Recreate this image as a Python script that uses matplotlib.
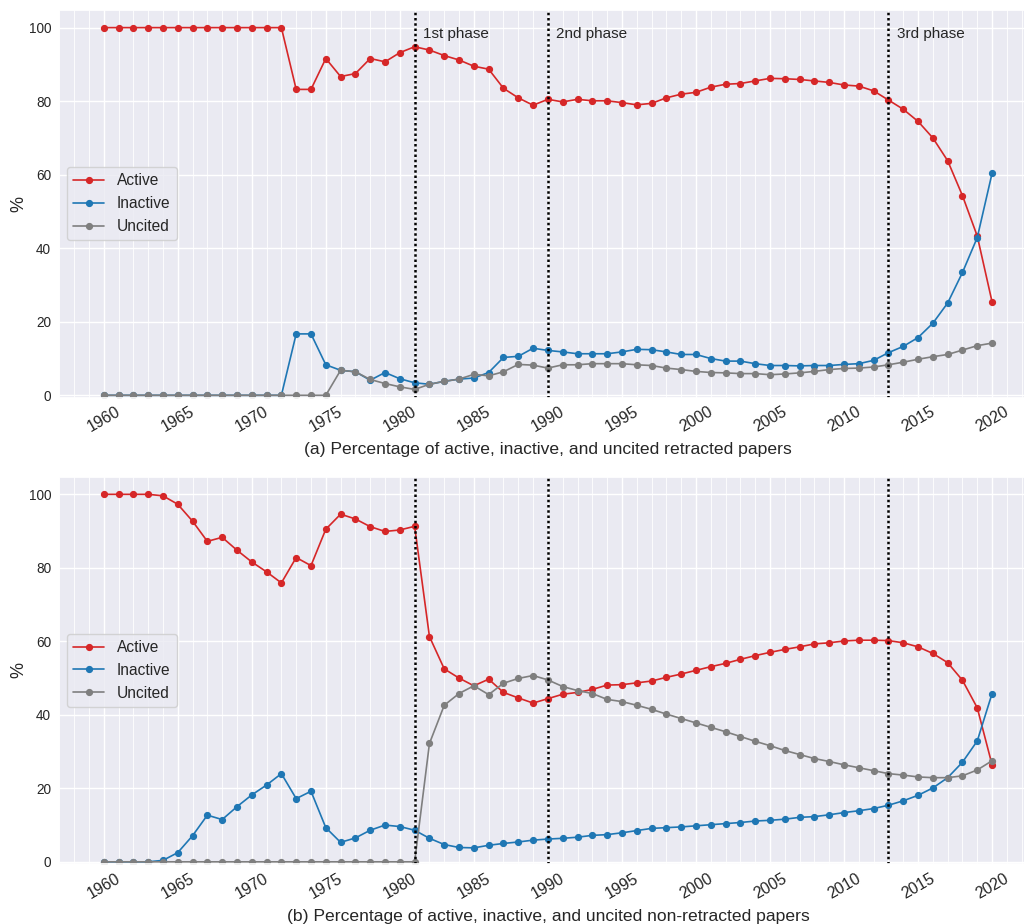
import matplotlib
matplotlib.use("Agg")
import matplotlib.pyplot as plt
from matplotlib.ticker import MultipleLocator
import seaborn as sns

sns.set_theme(style="darkgrid")
plt.rcParams['font.family'] = ['Liberation Sans', 'DejaVu Sans']

years = list(range(1960, 2021))

# (a) retracted papers, % per year
ret_active = [100] * 13 + [
    83.2, 83.2, 91.6, 86.7, 87.5, 91.6, 90.7, 93.2,
    94.8, 93.9, 92.4, 91.2, 89.5, 88.7, 83.5, 80.9, 78.9, 80.5,
    79.8, 80.5, 80.1, 80.1, 79.6, 79.0, 79.4, 80.9, 81.9, 82.4,
    83.8, 84.6, 84.8, 85.5, 86.2, 86.1, 85.9, 85.5, 85.1, 84.4,
    84.1, 82.8, 80.3, 77.8, 74.5, 70.0, 63.8, 54.3, 43.3, 25.4]
ret_inactive = [0] * 13 + [
    16.7, 16.7, 8.3, 6.8, 6.4, 4.1, 6.2, 4.5,
    3.4, 3.0, 3.8, 4.4, 4.7, 6.2, 10.3, 10.6, 12.8, 12.2,
    11.8, 11.3, 11.3, 11.3, 11.8, 12.5, 12.4, 11.8, 11.1, 11.1,
    10.0, 9.3, 9.3, 8.6, 8.1, 8.1, 8.0, 8.1, 8.1, 8.4,
    8.6, 9.5, 11.6, 13.3, 15.7, 19.6, 25.1, 33.4, 42.9, 60.4]
ret_uncited = [0] * 16 + [
    6.8, 6.4, 4.3, 3.2, 2.3,
    1.6, 3.0, 3.8, 4.4, 5.7, 5.3, 6.4, 8.4, 8.2, 7.4,
    8.3, 8.3, 8.6, 8.6, 8.6, 8.3, 8.1, 7.4, 7.0, 6.5,
    6.2, 6.1, 5.9, 5.9, 5.6, 5.8, 6.1, 6.5, 7.0, 7.3,
    7.4, 7.7, 8.3, 9.0, 9.8, 10.5, 11.1, 12.3, 13.5, 14.2]

# (b) non-retracted papers, % per year
non_active = [
    100, 100, 100, 100, 99.6, 97.3, 92.7, 87.2, 88.3, 84.8,
    81.6, 78.9, 75.9, 82.8, 80.6, 90.5, 94.6, 93.3, 91.2, 89.9, 90.3,
    91.3, 61.3, 52.5, 50.0, 47.9, 49.7, 46.1, 44.6, 43.2, 44.4,
    45.6, 46.1, 46.9, 48.1, 48.2, 48.7, 49.2, 50.2, 51.1, 52.1,
    53.1, 54.0, 55.1, 56.1, 57.0, 57.8, 58.5, 59.3, 59.6, 60.1,
    60.3, 60.3, 60.2, 59.6, 58.5, 56.7, 54.2, 49.4, 41.9, 26.4]
non_inactive = [
    0, 0, 0, 0, 0.4, 2.5, 7.1, 12.7, 11.5, 15.0,
    18.2, 20.9, 24.0, 17.2, 19.2, 9.3, 5.3, 6.5, 8.6, 10.0, 9.6,
    8.6, 6.4, 4.7, 3.9, 3.8, 4.5, 5.0, 5.4, 5.9, 6.2,
    6.4, 6.7, 7.2, 7.4, 7.9, 8.5, 9.1, 9.3, 9.5, 9.8,
    10.1, 10.4, 10.7, 11.1, 11.3, 11.6, 12.1, 12.3, 12.8, 13.4,
    13.9, 14.5, 15.4, 16.6, 18.1, 20.1, 22.9, 27.1, 32.9, 45.8]
non_uncited = [0] * 22 + [
    32.2, 42.6, 45.8, 47.9, 45.5, 48.6, 49.9, 50.7, 49.5,
    47.7, 46.6, 45.8, 44.2, 43.6, 42.6, 41.5, 40.2, 39.0, 37.8,
    36.6, 35.4, 34.1, 32.8, 31.6, 30.3, 29.2, 28.1, 27.3, 26.4,
    25.6, 24.8, 24.0, 23.6, 23.1, 22.9, 22.9, 23.4, 25.0, 27.5]

phase_years = [1981, 1990, 2013]
phase_names = ['1st phase', '2nd phase', '3rd phase']

captions = ['(a) Percentage of active, inactive, and uncited retracted papers',
            '(b) Percentage of active, inactive, and uncited non-retracted papers']

fig = plt.figure(figsize=(10.24, 9.24), dpi=100)
ax1 = fig.add_axes([0.0579, 0.5698, 0.9543, 0.4194])
ax2 = fig.add_axes([0.0579, 0.0649, 0.9543, 0.4192])

panels = [(ax1, ret_active, ret_inactive, ret_uncited, True),
          (ax2, non_active, non_inactive, non_uncited, False)]

for i, (ax, act, inact, unc, label_phases) in enumerate(panels):
    ax.plot(years, act, '-o', color='tab:red', lw=1.2, ms=4.2, label='Active')
    ax.plot(years, inact, '-o', color='tab:blue', lw=1.2, ms=4.2, label='Inactive')
    ax.plot(years, unc, '-o', color='tab:gray', lw=1.2, ms=4.2, label='Uncited')
    for yr, name in zip(phase_years, phase_names):
        ax.axvline(yr, color='black', lw=1.8, linestyle=(0, (1, 1.1)))
        if label_phases:
            ax.text(yr + 0.55, 98.3, name, fontsize=11, va='center', color='#262626')
    ax.set_xlim(1957, 2023)
    ax.set_ylim(-0.6, 104.8)
    ax.set_xticks(range(1960, 2021, 5))
    ax.xaxis.set_minor_locator(MultipleLocator(1))
    ax.grid(which='minor', axis='x', color='white', linewidth=0.6)
    ax.set_yticks(range(0, 101, 20))
    ax.tick_params(axis='x', labelsize=11.5, labelrotation=30, length=0, pad=4.7)
    ax.tick_params(axis='y', labelsize=9.8, length=0, pad=5.8)
    ax.set_ylabel('%', fontsize=13)
    ax.yaxis.set_label_coords(-0.033, 0.5)
    ax.set_xlabel(captions[i], fontsize=12.6, labelpad=5.5)
    ax.legend(loc='center left', fontsize=11.2)

fig.savefig('out.png', dpi=100)
